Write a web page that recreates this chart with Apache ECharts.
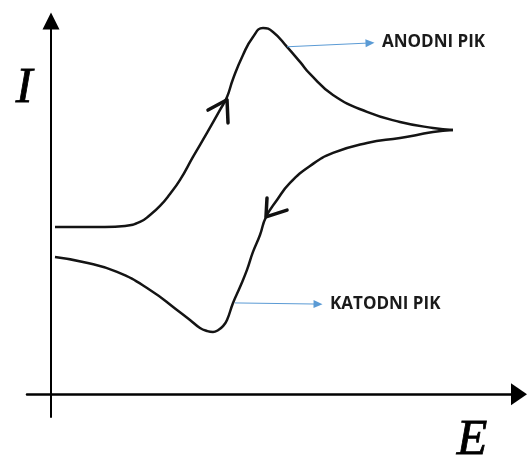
<!DOCTYPE html>
<html>
<head>
<meta charset="utf-8">
<script src="https://cdn.jsdelivr.net/npm/echarts@6/dist/echarts.min.js"></script>
<style>
  html, body { margin: 0; padding: 0; background: #fff; }
  #main { width: 527px; height: 456px; }
</style>
</head>
<body>
<div id="main"></div>
<script>
// cyclic voltammogram sketch, units are arbitrary
// forward scan (oxidation)
const forwardE = [0.083, 0.604, 1.125, 1.542, 1.854, 2.063, 2.271, 2.479, 2.688, 2.958, 3.25, 3.521, 3.667, 3.792, 4.0, 4.208, 4.417, 4.625, 4.917, 5.188, 5.396, 5.875, 6.583, 7.271, 7.958, 8.375];
const forwardI = [4.415, 4.415, 4.415, 4.442, 4.547, 4.732, 4.970, 5.286, 5.656, 6.263, 6.896, 7.503, 7.846, 8.321, 8.955, 9.430, 9.668, 9.562, 9.166, 8.770, 8.453, 7.899, 7.451, 7.187, 7.028, 6.975];
// reverse scan (reduction)
const reverseE = [8.375, 7.958, 7.625, 7.271, 6.583, 5.875, 5.396, 4.979, 4.708, 4.479, 4.354, 4.208, 4.083, 3.938, 3.792, 3.667, 3.583, 3.479, 3.375, 3.250, 3.104, 2.896, 2.625, 2.063, 1.375, 0.667, 0.083];
const reverseI = [6.975, 6.923, 6.843, 6.764, 6.632, 6.368, 6.025, 5.577, 5.128, 4.679, 4.204, 3.756, 3.281, 2.832, 2.410, 1.961, 1.800, 1.690, 1.644, 1.670, 1.750, 1.961, 2.225, 2.753, 3.228, 3.492, 3.624];
// direction chevrons drawn on the curve
const upArrowE = [3.271, 3.667, 3.688];
const upArrowI = [7.50, 7.77, 7.16];
const downArrowE = [4.5, 4.479, 4.917];
const downArrowI = [5.18, 4.68, 4.86];
// pointers to the peaks
const anodicPointer = [[4.917, 9.17], [6.646, 9.27]];
const cathodicPointer = [[3.833, 2.41], [5.563, 2.38]];
const peakLabels = ['ANODNI PIK', 'KATODNI PIK'];
const axisNames = ['E', 'I'];

function pairs(xs, ys) {
  return xs.map((x, i) => [x, ys[i]]);
}

const chart = echarts.init(document.getElementById('main'), null, { renderer: 'canvas' });

const curveStyle = { color: '#141414', width: 2.5 };

const option = {
  animation: false,
  backgroundColor: '#fff',
  grid: { left: 27, right: 8, top: 21, bottom: 39 },
  xAxis: {
    type: 'value',
    min: -0.5,
    max: 9.75,
    axisLine: {
      onZero: true,
      symbol: ['none', 'triangle'],
      symbolSize: [22, 16],
      lineStyle: { color: '#000', width: 2.5 }
    },
    axisTick: { show: false },
    axisLabel: { show: false },
    splitLine: { show: false }
  },
  yAxis: {
    type: 'value',
    min: -0.6,
    max: 9.85,
    axisLine: {
      onZero: true,
      symbol: ['none', 'triangle'],
      symbolSize: [17, 17],
      lineStyle: { color: '#000', width: 2 }
    },
    axisTick: { show: false },
    axisLabel: { show: false },
    splitLine: { show: false }
  },
  graphic: [
    {
      type: 'text',
      x: 24,
      y: 89,
      style: {
        text: axisNames[1],
        font: 'italic 50px "Liberation Serif"',
        fill: '#000',
        stroke: '#000',
        lineWidth: 0.8,
        textAlign: 'center',
        textVerticalAlign: 'middle'
      }
    },
    {
      type: 'text',
      x: 472,
      y: 441,
      style: {
        text: axisNames[0],
        font: 'italic 50px "Liberation Serif"',
        fill: '#000',
        stroke: '#000',
        lineWidth: 0.8,
        textAlign: 'center',
        textVerticalAlign: 'middle'
      }
    }
  ],
  series: [
    {
      name: 'forward',
      type: 'line',
      smooth: 0.5,
      showSymbol: false,
      silent: true,
      lineStyle: curveStyle,
      data: pairs(forwardE, forwardI)
    },
    {
      name: 'reverse',
      type: 'line',
      smooth: 0.5,
      showSymbol: false,
      silent: true,
      lineStyle: curveStyle,
      data: pairs(reverseE, reverseI),
      markLine: {
        silent: true,
        symbol: ['none', 'triangle'],
        symbolSize: [8, 9],
        lineStyle: { color: '#5b9bd5', width: 1, type: 'solid' },
        label: {
          show: true,
          position: 'end',
          distance: 12,
          formatter: '{b}',
          color: '#1a1a1a',
          fontWeight: 'bold',
          fontSize: 17,
          fontFamily: 'Open Sans'
        },
        data: [
          [{ coord: anodicPointer[0], name: peakLabels[0] }, { coord: anodicPointer[1] }],
          [{ coord: cathodicPointer[0], name: peakLabels[1] }, { coord: cathodicPointer[1] }]
        ]
      }
    },
    {
      name: 'arrowUp',
      type: 'line',
      showSymbol: false,
      silent: true,
      lineStyle: { color: '#111', width: 3.5, join: 'round', cap: 'round' },
      data: pairs(upArrowE, upArrowI)
    },
    {
      name: 'arrowDown',
      type: 'line',
      showSymbol: false,
      silent: true,
      lineStyle: { color: '#111', width: 3.5, join: 'round', cap: 'round' },
      data: pairs(downArrowE, downArrowI)
    }
  ]
};

chart.setOption(option);
</script>
</body>
</html>
